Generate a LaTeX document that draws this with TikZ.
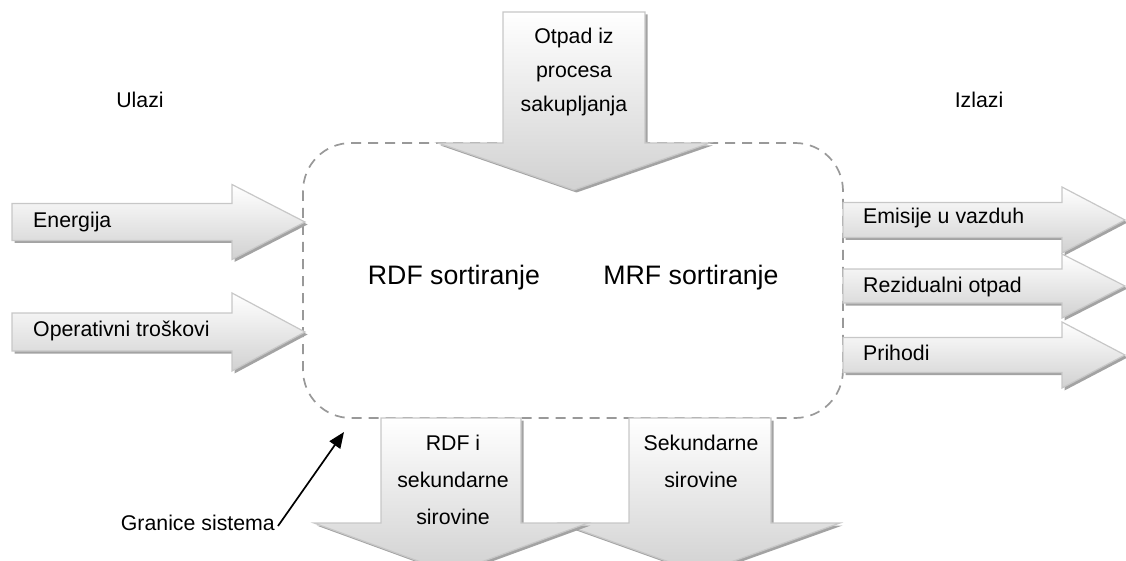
\documentclass[tikz,border=0pt]{standalone}
\usepackage{fontspec}
\setmainfont{Liberation Sans}
\usetikzlibrary{arrows.meta}
% horizontal right arrow: x0, x1 (head base), x2 (tip), yc, body half height, head half height
\newcommand\myharr[6]{%
  \path[shd] (#1,#4-#5) -- (#2,#4-#5) -- (#2,#4-#6) -- (#3,#4) -- (#2,#4+#6) -- (#2,#4+#5) -- (#1,#4+#5) -- cycle;
  \path[arr] (#1,#4-#5) -- (#2,#4-#5) -- (#2,#4-#6) -- (#3,#4) -- (#2,#4+#6) -- (#2,#4+#5) -- (#1,#4+#5) -- cycle;
}
% vertical down arrow: xc, body half width, head half width, y0, y1 (head base), y2 (tip)
\newcommand\myvarr[6]{%
  \path[shd] (#1-#2,#4) -- (#1+#2,#4) -- (#1+#2,#5) -- (#1+#3,#5) -- (#1,#6) -- (#1-#3,#5) -- (#1-#2,#5) -- cycle;
  \path[arr] (#1-#2,#4) -- (#1+#2,#4) -- (#1+#2,#5) -- (#1+#3,#5) -- (#1,#6) -- (#1-#3,#5) -- (#1-#2,#5) -- cycle;
}
\begin{document}
\begin{tikzpicture}[x=1pt,y=-1pt,
  arr/.style={draw=black!22, line width=1.2pt, top color=white, bottom color=black!18, line join=miter},
  shd/.style={fill=black!36, draw=none, xshift=2.5pt, yshift=-2.5pt},
  lbl/.style={font=\fontsize{21.3}{34}\selectfont, inner sep=0pt},
  big/.style={font=\fontsize{26.7}{30}\selectfont, inner sep=0pt},
  bnd/.style={draw=black!40, line width=1.7pt, dash pattern=on 10pt off 7pt, rounded corners=48pt}]
\useasboundingbox (0,0) rectangle (1126,561);
\clip (0,0) rectangle (1126,561);

% system boundary
\draw[bnd] (303,143) rectangle (843,418);

% inputs (left)
\myharr{12}{232}{305}{222}{18.5}{37.5}
\myharr{12}{232}{305}{332}{19}{39}
% outputs (right)
\myharr{843}{1062}{1125}{355}{17.5}{33}
\myharr{843}{1062}{1125}{286}{17}{32}
\myharr{843}{1062}{1125}{220}{17.5}{33}
% top input
\myvarr{574}{71}{136}{12}{143}{190}
% bottom outputs
\myvarr{700}{71}{140}{418}{523}{573}
\myvarr{451}{70}{137}{418}{523}{573}

% texts
\node[lbl] (ulazi) at (140,100) {Ulazi};
\node[lbl] (izlazi) at (979,100) {Izlazi};
\node[big] (rdf) at (454,278) {RDF sortiranje};
\node[big] (mrf) at (691,278) {MRF sortiranje};
\node[lbl, anchor=west] (en) at (33,222) {Energija};
\node[lbl, anchor=west] (op) at (33,331) {Operativni troškovi};
\node[lbl, anchor=west] (em) at (863,218) {Emisije u vazduh};
\node[lbl, anchor=west] (rez) at (863,287) {Rezidualni otpad};
\node[lbl, anchor=west] (pri) at (863,353) {Prihodi};
\node[lbl, align=center] (otp) at (574,72) {Otpad iz\\procesa\\sakupljanja};
\node[lbl, align=center, font=\fontsize{21.3}{37}\selectfont] (rdfo) at (453,480) {RDF i\\sekundarne\\sirovine};
\node[lbl, align=center, font=\fontsize{21.3}{37}\selectfont] (seko) at (701,461) {Sekundarne\\sirovine};
\node[lbl, anchor=east] (gr) at (275,523) {Granice sistema};
\coordinate (gt) at (344,432);
\draw[line width=1.7pt, -{Triangle[length=16pt,width=13pt]}] ([xshift=3pt,yshift=-3pt]gr.east) -- (gt);
\end{tikzpicture}
\end{document}
